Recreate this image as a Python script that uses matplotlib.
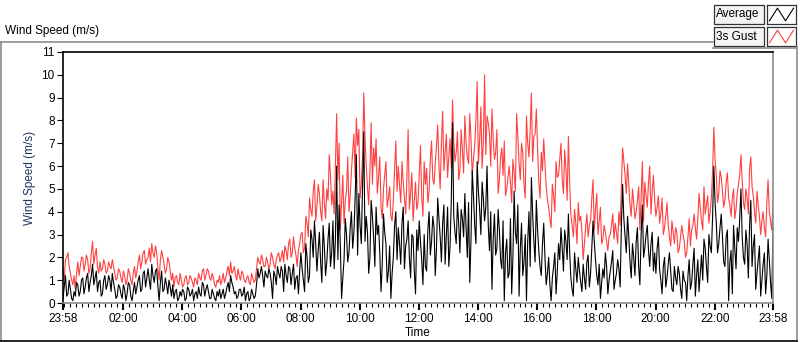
import numpy as np
import matplotlib
matplotlib.use("Agg")
import matplotlib.pyplot as plt
from matplotlib.lines import Line2D
from matplotlib.patches import Rectangle

plt.rcParams['font.family'] = ['Liberation Sans', 'DejaVu Sans']

# samples every 5 minutes from 23:58 (…_a), plus the readings half way between them (…_b)
step_min = 5
gust_a = [
    1.5, 1.9, 2.2, 1.3, 0.8, 0.6, 1.8, 1.6, 2.0, 1.7, 1.9, 1.5, 2.7, 2.1, 1.6, 1.8,
    1.5, 1.7, 1.4, 1.6, 1.9, 1.3, 1.1, 1.4, 0.9, 1.2, 1.0, 1.3, 0.8, 1.6, 1.4, 2.1,
    1.8, 2.3, 1.9, 2.4, 2.6, 2.0, 2.2, 1.0, 2.3, 1.7, 1.5, 1.8, 1.0, 0.7, 1.2, 0.8,
    1.0, 0.8, 1.2, 0.9, 1.1, 0.7, 1.0, 1.3, 1.0, 1.5, 1.2, 1.4, 1.0, 1.1, 0.7, 0.9,
    0.8, 1.3, 1.1, 1.6, 1.8, 1.4, 1.2, 1.5, 1.0, 1.3, 0.9, 1.2, 0.8, 1.1, 1.0, 2.0,
    1.7, 1.9, 1.6, 1.8, 1.7, 2.0, 1.5, 2.1, 1.8, 2.3, 2.5, 1.9, 2.8, 2.2, 2.4, 1.6,
    2.6, 3.1, 2.4, 3.5, 4.6, 3.8, 5.4, 4.2, 4.8, 3.6, 4.4, 5.0, 6.5, 4.3, 3.9, 8.3,
    7.0, 4.4, 3.5, 4.9, 4.0, 5.8, 7.4, 8.1, 7.6, 5.2, 9.2, 6.0, 4.3, 7.9, 6.8, 7.2,
    5.5, 4.2, 5.0, 6.2, 4.6, 3.8, 4.5, 7.1, 6.0, 4.4, 5.3, 3.9, 7.6, 4.8, 3.6, 5.3,
    4.4, 6.9, 3.8, 5.2, 4.4, 6.3, 5.4, 6.1, 7.8, 5.0, 8.4, 6.6, 5.5, 7.2, 8.9, 6.2,
    7.5, 5.8, 6.7, 8.2, 6.4, 8.3, 5.6, 6.9, 9.7, 7.1, 5.9, 10.0, 8.2, 7.4, 8.5, 6.3,
    7.6, 5.4, 6.8, 7.1, 5.0, 6.0, 4.4, 5.7, 8.3, 6.1, 7.0, 5.2, 8.2, 6.4, 9.2, 7.3,
    8.5, 5.3, 6.6, 7.2, 5.1, 4.2, 3.3, 4.7, 6.2, 5.6, 7.0, 4.8, 5.9, 7.3, 3.9, 2.9,
    3.5, 4.4, 3.8, 1.9, 3.3, 2.9, 3.6, 5.4, 4.1, 3.0, 4.2, 2.8, 3.1, 2.3, 3.0, 3.9,
    3.5, 2.6, 3.4, 6.8, 5.6, 6.1, 4.3, 5.0, 3.7, 4.5, 3.2, 6.2, 5.3, 4.2, 6.0, 4.9,
    4.5, 4.2, 3.5, 4.6, 3.3, 4.4, 2.9, 3.6, 2.6, 3.1, 2.4, 3.4, 2.7, 2.2, 3.7, 3.2,
    3.9, 2.8, 4.8, 3.6, 5.1, 4.3, 3.5, 4.6, 7.7, 5.6, 4.8, 5.5, 4.2, 5.3, 4.6, 3.8,
    5.0, 4.1, 5.2, 6.5, 4.4, 5.0, 3.9, 6.4, 4.7, 3.5, 4.3, 3.0, 4.0, 2.9, 5.4, 3.6,
    4.5,
]
gust_b = [
    1.0, 2.0, 1.6, 1.0, 1.2, 1.3, 1.2, 2.0, 1.4, 2.1, 1.3, 2.2, 1.7, 2.4, 1.3, 1.4,
    1.9, 1.3, 1.8, 1.5, 1.6, 1.0, 1.5, 1.1, 1.4, 0.8, 1.5, 1.0, 1.3, 1.1, 1.8, 1.5,
    2.2, 1.7, 2.0, 1.8, 2.2, 2.5, 1.5, 1.9, 2.0, 1.3, 2.0, 1.4, 1.3, 1.1, 0.9, 1.3,
    0.7, 1.1, 0.8, 1.2, 0.9, 1.1, 0.8, 1.1, 1.4, 1.0, 1.5, 1.1, 1.3, 0.8, 1.0, 1.2,
    1.0, 0.9, 1.4, 1.2, 1.3, 1.6, 1.0, 1.2, 1.4, 1.0, 1.1, 0.9, 1.3, 0.9, 1.5, 1.8,
    2.1, 1.6, 2.0, 1.5, 2.2, 1.7, 1.9, 2.2, 2.0, 1.8, 2.3, 2.6, 2.0, 2.9, 2.1, 2.3,
    3.0, 2.2, 3.8, 2.9, 4.1, 4.9, 3.6, 5.2, 4.0, 5.4, 3.7, 4.5, 5.6, 4.9, 6.0, 5.4,
    3.2, 5.6, 4.5, 6.4, 4.7, 6.6, 5.5, 6.9, 4.6, 6.4, 7.3, 5.1, 5.8, 5.2, 6.0, 4.8,
    6.4, 3.7, 5.6, 4.2, 5.1, 3.6, 5.8, 4.9, 5.2, 6.2, 4.6, 5.5, 4.1, 5.7, 4.5, 4.1,
    5.6, 4.7, 6.2, 5.9, 4.9, 7.1, 5.2, 6.9, 6.0, 7.0, 5.8, 7.4, 6.4, 5.9, 7.1, 6.6,
    5.4, 7.6, 5.7, 7.0, 6.1, 7.2, 6.3, 8.0, 6.1, 8.6, 7.0, 6.5, 7.9, 6.0, 7.2, 6.6,
    4.8, 6.4, 5.6, 4.7, 5.5, 5.3, 6.3, 4.9, 7.3, 5.4, 6.6, 4.6, 7.0, 7.6, 6.2, 7.4,
    6.8, 4.6, 5.8, 6.1, 4.5, 3.7, 5.2, 4.0, 5.5, 6.3, 5.4, 6.7, 4.5, 5.3, 3.4, 4.1,
    2.6, 3.6, 3.1, 2.6, 3.9, 3.4, 4.6, 3.2, 4.8, 3.6, 2.6, 3.4, 2.7, 2.9, 3.4, 2.8,
    3.1, 4.0, 5.1, 6.2, 4.8, 5.2, 3.8, 4.4, 4.0, 5.1, 4.6, 3.6, 4.7, 5.3, 3.9, 5.6,
    3.8, 4.7, 3.9, 3.0, 3.8, 3.4, 2.5, 3.1, 3.3, 2.2, 2.9, 3.0, 2.0, 2.9, 2.5, 3.4,
    3.3, 3.7, 4.2, 3.2, 3.9, 4.7, 4.0, 5.8, 6.3, 4.4, 5.8, 4.9, 4.5, 5.7, 4.3, 4.6,
    3.7, 4.8, 5.6, 5.4, 4.1, 4.6, 5.9, 5.1, 4.0, 4.9, 3.8, 3.6, 3.3, 4.4, 4.0, 3.2,
]
average_a = [
    0.2, 1.2, 0.4, 0.6, 0.1, 0.3, 0.8, 0.5, 1.1, 0.7, 1.3, 0.9, 1.7, 1.1, 0.5, 1.0,
    0.4, 1.2, 0.8, 1.0, 1.3, 0.6, 0.3, 0.7, 0.2, 0.6, 0.4, 0.8, 0.1, 0.9, 0.7, 1.2,
    0.6, 1.4, 1.1, 1.0, 1.7, 0.9, 1.5, 0.1, 1.4, 0.6, 0.8, 1.0, 0.3, 0.2, 0.6, 0.2,
    0.3, 0.5, 0.2, 0.6, 0.4, 0.1, 0.5, 0.7, 0.3, 0.8, 0.6, 0.5, 0.2, 0.4, 0.1, 0.3,
    0.2, 0.6, 0.4, 0.9, 1.2, 0.7, 0.5, 0.3, 0.6, 0.4, 0.1, 0.5, 0.2, 0.4, 0.3, 1.5,
    1.3, 1.2, 1.4, 1.1, 1.3, 0.2, 1.2, 1.6, 1.1, 1.4, 1.7, 0.9, 1.5, 1.3, 0.6, 1.2,
    1.4, 1.5, 0.5, 2.0, 1.2, 2.8, 3.6, 1.4, 3.1, 0.9, 2.5, 1.8, 3.5, 2.2, 1.5, 6.0,
    4.3, 0.2, 1.9, 3.0, 2.2, 4.0, 3.1, 6.5, 4.8, 2.6, 7.5, 3.8, 1.3, 4.5, 2.9, 4.2,
    3.4, 0.5, 3.9, 2.6, 1.4, 0.2, 2.0, 4.0, 3.3, 1.7, 4.2, 2.5, 3.6, 1.1, 2.9, 0.4,
    2.3, 2.7, 0.8, 1.6, 3.2, 2.1, 3.8, 1.2, 4.6, 2.9, 3.5, 1.7, 4.2, 2.5, 7.9, 3.1,
    4.4, 2.2, 3.7, 4.8, 2.0, 0.9, 5.8, 3.4, 6.2, 4.1, 5.3, 3.6, 6.0, 2.3, 0.6, 3.9,
    2.4, 3.2, 1.5, 0.1, 2.8, 1.3, 0.4, 4.9, 2.6, 0.3, 3.5, 1.8, 0.1, 4.0, 5.5, 2.7,
    4.5, 2.3, 1.2, 3.5, 0.8, 2.0, 0.1, 1.6, 0.4, 2.6, 3.3, 1.4, 2.7, 3.9, 1.1, 0.3,
    1.5, 2.0, 0.9, 1.7, 0.6, 2.1, 1.3, 3.6, 1.9, 0.8, 0.2, 1.5, 2.2, 0.4, 1.4, 2.3,
    1.0, 1.9, 0.7, 5.2, 2.9, 3.8, 1.8, 2.6, 1.2, 3.3, 0.8, 4.3, 2.4, 3.4, 1.6, 3.1,
    2.2, 2.4, 1.5, 0.4, 2.0, 1.1, 2.2, 0.6, 1.6, 0.8, 1.3, 0.2, 1.0, 0.1, 1.9, 0.9,
    2.4, 1.2, 0.5, 2.1, 2.8, 1.6, 3.0, 2.2, 6.0, 3.5, 2.6, 3.9, 1.8, 2.9, 0.1, 2.3,
    3.4, 1.5, 2.7, 5.0, 2.0, 3.2, 1.1, 4.5, 2.5, 0.6, 1.9, 0.3, 1.7, 0.4, 2.8, 0.9,
    3.4,
]
average_b = [
    0.7, 0.3, 1.0, 0.2, 0.5, 0.9, 0.3, 1.0, 0.4, 1.1, 0.5, 1.2, 0.8, 1.4, 0.9, 0.3,
    1.0, 0.6, 1.2, 0.5, 0.9, 0.2, 0.8, 0.4, 0.8, 0.1, 0.9, 0.3, 0.5, 0.4, 1.0, 0.5,
    1.3, 0.7, 1.5, 0.6, 1.2, 1.4, 0.7, 0.9, 0.5, 1.1, 0.4, 0.7, 0.8, 0.5, 0.1, 0.5,
    0.6, 0.1, 0.7, 0.3, 0.6, 0.4, 0.2, 0.4, 0.9, 0.3, 0.8, 0.2, 0.6, 0.2, 0.5, 0.6,
    0.4, 0.2, 0.7, 0.5, 0.9, 0.4, 0.2, 0.6, 0.3, 0.7, 0.4, 0.1, 0.6, 0.2, 0.8, 1.1,
    1.6, 0.7, 1.2, 1.5, 0.9, 1.4, 0.8, 1.3, 1.6, 0.5, 1.2, 1.6, 0.8, 1.7, 1.1, 0.4,
    2.2, 1.0, 2.6, 0.9, 3.2, 2.0, 2.6, 2.3, 1.8, 3.4, 1.2, 2.8, 1.6, 3.6, 2.8, 1.9,
    2.5, 1.1, 3.7, 1.8, 3.3, 2.4, 4.6, 2.1, 3.4, 5.0, 2.7, 3.1, 2.0, 3.8, 1.6, 3.0,
    2.2, 1.7, 3.1, 0.9, 2.5, 1.3, 3.4, 1.9, 2.6, 3.5, 1.5, 2.8, 2.0, 3.0, 1.4, 3.2,
    3.6, 1.9, 3.0, 1.4, 4.0, 2.7, 3.3, 2.4, 3.7, 1.8, 4.3, 3.0, 1.6, 4.5, 3.8, 2.6,
    3.5, 4.1, 2.9, 3.3, 4.4, 2.8, 4.7, 2.6, 4.9, 3.0, 4.6, 4.2, 3.4, 4.0, 2.8, 2.1,
    4.1, 1.9, 3.6, 2.2, 1.1, 3.7, 2.0, 3.1, 4.3, 2.4, 1.2, 3.0, 2.7, 1.6, 3.9, 1.8,
    3.2, 1.6, 2.6, 2.0, 1.3, 0.8, 1.1, 2.2, 1.4, 1.9, 2.4, 3.2, 1.9, 2.3, 0.6, 2.2,
    0.9, 1.4, 0.5, 1.1, 1.8, 0.7, 2.4, 2.7, 1.2, 1.7, 0.9, 1.1, 1.6, 1.0, 1.8, 0.6,
    1.3, 1.5, 3.4, 3.7, 2.2, 2.9, 1.1, 2.0, 2.7, 1.6, 3.0, 2.0, 3.0, 2.3, 2.6, 1.4,
    1.3, 2.9, 1.0, 1.6, 0.7, 1.7, 1.4, 0.5, 1.1, 1.6, 0.6, 1.4, 0.9, 1.2, 0.6, 1.7,
    0.3, 1.9, 1.3, 1.0, 2.4, 0.9, 2.5, 3.8, 4.4, 2.2, 3.3, 2.9, 1.6, 3.2, 1.8, 0.4,
    2.4, 3.3, 3.7, 2.9, 1.7, 2.6, 3.4, 1.6, 3.0, 1.3, 2.5, 1.0, 2.2, 1.2, 1.9, 0.2,
]
tick_labels = ["23:58", "02:00", "04:00", "06:00", "08:00", "10:00", "12:00",
               "14:00", "16:00", "18:00", "20:00", "22:00", "23:58"]


def merge(a, b):
    # interleave on-the-mark and half-way readings in time order
    ta = np.arange(len(a)) * step_min
    tb = ta[:len(b)] + step_min / 2
    t = np.concatenate([ta, tb])
    v = np.concatenate([a, b])
    o = np.argsort(t, kind='stable')
    return t[o], v[o]


t_g, gust = merge(gust_a, gust_b)
t_a, average = merge(average_a, average_b)


def to_min(lbl, k):
    h, m = map(int, lbl.split(":"))
    v = (h * 60 + m - (23 * 60 + 58)) % 1440
    return 1440 if (k == len(tick_labels) - 1) else v


tick_pos = [to_min(l, k) for k, l in enumerate(tick_labels)]

fig = plt.figure(figsize=(8, 3.42), dpi=100)
ax = fig.add_axes([63 / 800, 1 - 303 / 342, 710 / 800, 251 / 342])

ax.plot(t_g, gust, color='#ff4040', lw=0.8)
ax.plot(t_a, average, color='black', lw=0.8)

ax.set_xlim(0, 1440)
ax.set_ylim(0, 11)
ax.set_yticks(range(0, 12))
ax.set_xticks(tick_pos)
ax.set_xticklabels(tick_labels)
ax.set_xticks(np.arange(2, 1440, 12), minor=True)
ax.tick_params(axis='both', labelsize=8.5, color='black', direction='out')
ax.tick_params(axis='x', which='major', length=5, width=1.5, pad=2)
ax.tick_params(axis='x', which='minor', length=3, width=0.8)
ax.tick_params(axis='y', length=4, width=0.8, pad=2)
ax.set_xlabel("Time", fontsize=8.5, labelpad=2)
ax.set_ylabel("Wind Speed (m/s)", fontsize=8.5, color='#1f3560', labelpad=4)
ax.spines['left'].set_color('black')
ax.spines['top'].set_color('black')
ax.spines['right'].set_color('#8c8c8c')
ax.spines['bottom'].set_color('#8c8c8c')
for s in ax.spines.values():
    s.set_linewidth(1.2)

# outer panel frame
W, H = 800, 342
fig.add_artist(Line2D([0, 713 / W], [1 - 42 / H] * 2, color='#8c8c8c', lw=1.2))
fig.add_artist(Line2D([797 / W] * 2, [1 - 47 / H, 1 - 341 / H], color='#8c8c8c', lw=1.2))
fig.add_artist(Line2D([1 / W] * 2, [1 - 42 / H, 1 - 341 / H], color='#8c8c8c', lw=1.2))
fig.add_artist(Line2D([0, 797 / W], [1 - 340.5 / H] * 2, color='black', lw=1.2))
fig.add_artist(Line2D([713 / W, 797 / W], [1 - 48 / H] * 2, color='#8c8c8c', lw=1.2))

fig.text(5 / W, 1 - 31 / H, "Wind Speed (m/s)", fontsize=8.5, va='center', ha='left')

# legend
legend_items = [("Average", 'black'), ("3s Gust", '#ff4040')]
for k, (name, col) in enumerate(legend_items):
    y0 = 5 + k * 22
    fig.add_artist(Rectangle((714 / W, 1 - (y0 + 19) / H), 50 / W, 19 / H,
                             facecolor='#f4f4f4', edgecolor='#333333', lw=0.9))
    fig.text(716 / W, 1 - (y0 + 9.5) / H, name, fontsize=8.5, va='center', ha='left')
    sw = fig.add_axes([767 / W, 1 - (y0 + 19) / H, 29 / W, 19 / H])
    sw.plot([0, 1, 2, 3], [0, 1, 0, 1], color=col, lw=0.8)
    sw.set_xlim(-0.3, 3.3)
    sw.set_ylim(-0.25, 1.25)
    sw.set_xticks([])
    sw.set_yticks([])
    for s in sw.spines.values():
        s.set_color('#333333')
        s.set_linewidth(0.9)

fig.savefig("out.png", dpi=100)
